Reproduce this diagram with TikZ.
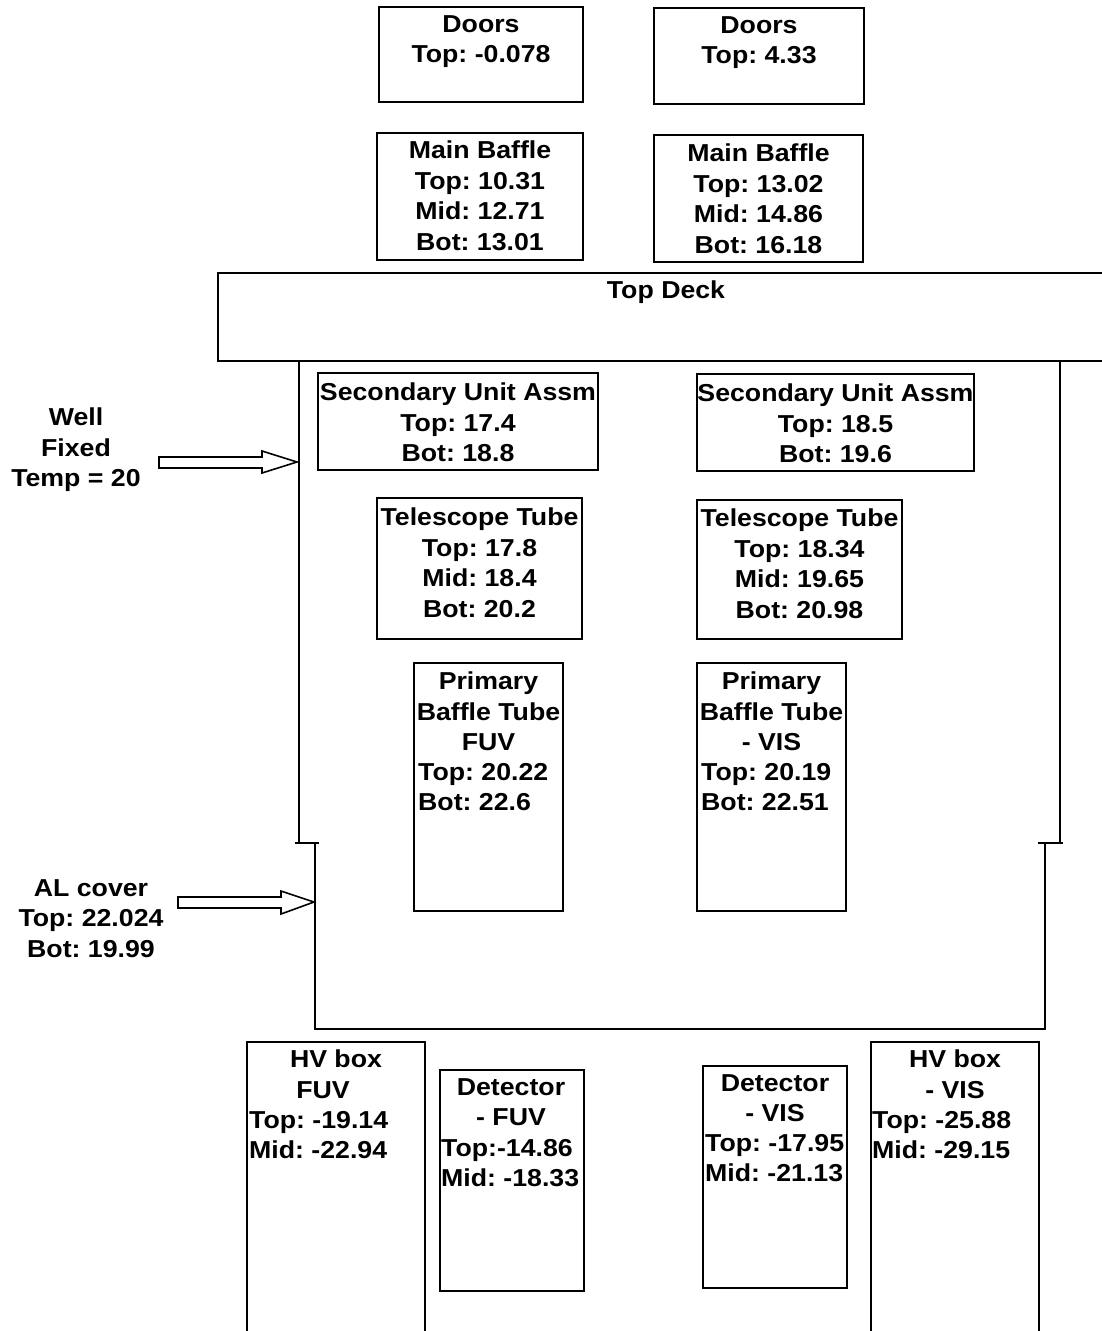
\documentclass[tikz,border=0pt]{standalone}
\usepackage{fontspec}
\setmainfont[FakeStretch=1.09]{Liberation Sans}
\frenchspacing
\begin{document}
\frenchspacing
\begin{tikzpicture}[x=1pt,y=1pt]
\tikzset{
  box/.style={draw, line width=1.8pt, inner sep=0pt, outer sep=0pt},
  txt/.style={font=\fontsize{24.5}{30.5}\selectfont\bfseries\frenchspacing, inner sep=0pt, align=center, anchor=north},
  txtl/.style={txt, align=left, anchor=north west},
  wall/.style={line width=1.8pt},
  blockarrow/.style={draw, line width=1.6pt, fill=white, line join=miter}
}
\useasboundingbox (0,0) rectangle (1102,-1331);
\fill[white] (0,0) rectangle (1102,-1331);
\clip (0,0) rectangle (1102,-1331);

% boxes
\node[box, minimum width=204pt, minimum height=95pt] (doorsL) at (481,-54.5) {};
\node[box, minimum width=210pt, minimum height=96pt] (doorsR) at (759,-56) {};
\node[box, minimum width=206pt, minimum height=127pt] (mbL) at (480,-196.5) {};
\node[box, minimum width=209pt, minimum height=127pt] (mbR) at (758.5,-198.5) {};
\node[box, minimum width=280pt, minimum height=97pt] (suaL) at (458,-421.5) {};
\node[box, minimum width=277pt, minimum height=97pt] (suaR) at (835.5,-422.5) {};
\node[box, minimum width=205pt, minimum height=141pt] (telL) at (479.5,-568.5) {};
\node[box, minimum width=205pt, minimum height=139pt] (telR) at (799.5,-569.5) {};
\node[box, minimum width=149pt, minimum height=248pt] (pL) at (488.5,-787) {};
\node[box, minimum width=149pt, minimum height=248pt] (pR) at (771.5,-787) {};
\node[box, minimum width=144pt, minimum height=221pt] (detL) at (512,-1180.5) {};
\node[box, minimum width=144pt, minimum height=222pt] (detR) at (775,-1177) {};

% top deck (open to the right edge)
\draw[wall] (1110,-273) -- (218,-273) -- (218,-361) -- (1110,-361);
% HV boxes (open at the bottom)
\draw[wall] (247,-1345) -- (247,-1042) -- (425,-1042) -- (425,-1345);
\draw[wall] (871,-1345) -- (871,-1042) -- (1039,-1042) -- (1039,-1345);

% walls
\draw[wall] (299,-361) -- (299,-843);
\draw[wall] (295,-843) -- (319,-843);
\draw[wall] (315,-843) -- (315,-1029) -- (1045,-1029) -- (1045,-843);
\draw[wall] (1038,-843) -- (1063,-843);
\draw[wall] (1060,-843) -- (1060,-361);

% texts
\node[txt] (doorsLt) at (481,-15) {Doors\\Top: -0.078};
\node[txt] (doorsRt) at (759,-16) {Doors\\Top: 4.33};
\node[txt] (mbLt) at (480,-141) {Main Baffle\\Top: 10.31\\Mid: 12.71\\Bot: 13.01};
\node[txt] (mbRt) at (758.5,-144) {Main Baffle\\Top: 13.02\\Mid: 14.86\\Bot: 16.18};
\node[txt] (tdt) at (666,-281) {Top Deck};
\node[txt] (suaLt) at (458,-383) {Secondary Unit Assm\\Top: 17.4\\Bot: 18.8};
\node[txt] (suaRt) at (835.5,-384) {Secondary Unit Assm\\Top: 18.5\\Bot: 19.6};
\node[txt] (telLt) at (479.5,-508) {Telescope Tube\\Top: 17.8\\Mid: 18.4\\Bot: 20.2};
\node[txt] (telRt) at (799.5,-509) {Telescope Tube\\Top: 18.34\\Mid: 19.65\\Bot: 20.98};
\node[txt] (pLt) at (488.5,-672) {Primary\\Baffle Tube\\FUV};
\node[txtl] (pLv) at (418,-763) {Top: 20.22\\Bot: 22.6};
\node[txt] (pRt) at (771.5,-672) {Primary\\Baffle Tube\\- VIS};
\node[txtl] (pRv) at (701,-763) {Top: 20.19\\Bot: 22.51};
\node[txt] (hvLt1) at (336,-1050) {HV box};
\node[txt] (hvLt2) at (323,-1081) {FUV};
\node[txtl] (hvLv) at (249,-1111) {Top: -19.14\\Mid: -22.94};
\node[txt] (detLt) at (511,-1078) {Detector\\- FUV};
\node[txtl] (detLv) at (441,-1139) {Top:-14.86\\Mid: -18.33};
\node[txt] (detRt) at (775,-1074) {Detector\\- VIS};
\node[txtl] (detRv) at (705,-1134) {Top: -17.95\\Mid: -21.13};
\node[txt] (hvRt) at (955,-1050) {HV box\\- VIS};
\node[txtl] (hvRv) at (872,-1111) {Top: -25.88\\Mid: -29.15};
\node[txt] (well) at (76,-408) {Well\\Fixed\\Temp = 20};
\node[txt] (alc) at (91,-879) {AL cover\\Top: 22.024\\Bot: 19.99};

% block arrows
\coordinate (wtip) at (297,-462);
\draw[blockarrow] (159,-457) -- (262,-457) -- (262,-451) -- (wtip) -- (262,-473) -- (262,-468) -- (159,-468) -- cycle;
\coordinate (atip) at (314,-902);
\draw[blockarrow] (178,-897) -- (281,-897) -- (281,-891) -- (atip) -- (281,-914) -- (281,-908) -- (178,-908) -- cycle;
\end{tikzpicture}
\end{document}
